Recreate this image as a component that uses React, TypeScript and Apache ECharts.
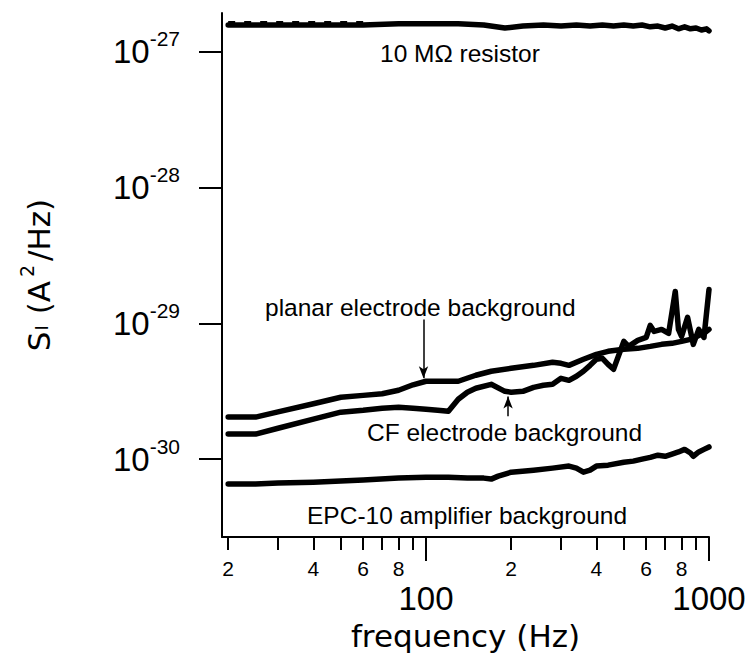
import React, { useEffect, useRef } from "react";
import * as echarts from "echarts";

// ---- data (frequency in Hz, spectral density S_I in A^2/Hz) ----
const freqResistor = [20, 40, 60, 80, 100, 130, 160, 190, 220, 260, 300, 340, 380, 420, 460, 500, 540, 580, 620, 660, 700, 740, 780, 820, 860, 900, 940, 980, 1000];
const resistor = [1.58e-27, 1.58e-27, 1.58e-27, 1.61e-27, 1.61e-27, 1.61e-27, 1.58e-27, 1.5e-27, 1.55e-27, 1.58e-27, 1.55e-27, 1.58e-27, 1.55e-27, 1.58e-27, 1.55e-27, 1.58e-27, 1.55e-27, 1.58e-27, 1.53e-27, 1.55e-27, 1.5e-27, 1.55e-27, 1.48e-27, 1.53e-27, 1.48e-27, 1.5e-27, 1.45e-27, 1.48e-27, 1.43e-27];

const freqTheory = [20, 60];
const theory = [1.63e-27, 1.63e-27];

const freqPlanar = [20, 25, 30, 40, 50, 60, 70, 80, 90, 100, 120, 130, 150, 170, 200, 240, 280, 300, 320, 360, 400, 440, 500, 560, 620, 680, 740, 800, 860, 920, 960, 1000];
const planar = [2.04e-30, 2.04e-30, 2.23e-30, 2.56e-30, 2.86e-30, 2.95e-30, 3.03e-30, 3.22e-30, 3.53e-30, 3.75e-30, 3.75e-30, 3.75e-30, 4.15e-30, 4.44e-30, 4.67e-30, 4.91e-30, 5.17e-30, 5.08e-30, 4.91e-30, 5.44e-30, 5.92e-30, 6.23e-30, 6.44e-30, 6.55e-30, 6.77e-30, 7.01e-30, 7.13e-30, 7.37e-30, 7.63e-30, 8.16e-30, 8.44e-30, 9.03e-30];

const freqCF = [20, 25, 30, 40, 50, 60, 70, 80, 90, 100, 110, 120, 130, 140, 150, 170, 190, 200, 220, 240, 260, 280, 300, 320, 340, 360, 380, 400, 420, 440, 460, 500, 520, 560, 600, 620, 640, 680, 720, 760, 780, 800, 840, 880, 920, 960, 1000];
const cf = [1.53e-30, 1.53e-30, 1.69e-30, 1.97e-30, 2.22e-30, 2.29e-30, 2.37e-30, 2.41e-30, 2.37e-30, 2.33e-30, 2.29e-30, 2.25e-30, 2.76e-30, 3.11e-30, 3.33e-30, 3.56e-30, 3.16e-30, 3.11e-30, 3.16e-30, 3.38e-30, 3.5e-30, 3.56e-30, 3.94e-30, 3.81e-30, 4.08e-30, 4.44e-30, 4.91e-30, 5.44e-30, 5.53e-30, 4.99e-30, 4.59e-30, 7.37e-30, 6.77e-30, 7.5e-30, 7.89e-30, 9.67e-30, 8.73e-30, 9.03e-30, 8.44e-30, 1.72e-29, 9.03e-30, 8.02e-30, 1.11e-29, 7.01e-30, 9.03e-30, 7.89e-30, 1.78e-29];

const freqEPC = [20, 25, 30, 40, 50, 60, 80, 100, 120, 140, 160, 170, 180, 200, 240, 280, 320, 340, 360, 380, 400, 440, 500, 540, 580, 620, 660, 700, 740, 780, 820, 860, 880, 920, 960, 1000];
const epc = [6.55e-31, 6.55e-31, 6.66e-31, 6.77e-31, 6.89e-31, 7.01e-31, 7.25e-31, 7.37e-31, 7.37e-31, 7.25e-31, 7.25e-31, 7.13e-31, 7.5e-31, 8.02e-31, 8.3e-31, 8.59e-31, 8.89e-31, 8.59e-31, 8.02e-31, 8.3e-31, 8.89e-31, 9.03e-31, 9.5e-31, 9.67e-31, 1.0e-30, 1.03e-30, 1.07e-30, 1.05e-30, 1.09e-30, 1.13e-30, 1.18e-30, 1.11e-30, 1.05e-30, 1.13e-30, 1.18e-30, 1.23e-30];

// axis ranges and ticks
const X_MIN = 19.02;
const X_MAX = 1000;
const Y_MIN = 2.67e-31;
const Y_MAX = 1.935e-27;
const minorTickFreqs = [20, 30, 40, 50, 60, 70, 80, 90, 200, 300, 400, 500, 600, 700, 800, 900];
const majorTickFreqs = [100, 1000];
const minorLabelFreqs = [20, 40, 60, 80, 200, 400, 600, 800];
const minorLabels = ["2", "4", "6", "8", "2", "4", "6", "8"];
const majorLabels = ["100", "1000"];
const yTickDecades = [1e-30, 1e-29, 1e-28, 1e-27];
const yTickExponents = ["-30", "-29", "-28", "-27"];

// annotations
const annotations = [
  { text: "10 M\u03A9 resistor", x: 380, y: 53 },
  { text: "planar electrode background", x: 265, y: 307 },
  { text: "CF electrode background", x: 367, y: 432 },
  { text: "EPC-10 amplifier background", x: 307, y: 515 },
];
const planarArrow = { f: 98, from: 1.07e-29, to: 3.94e-30 };
const cfArrow = { f: 195, from: 2.07e-30, to: 2.9e-30 };

const lg = Math.log10;
const FONT = "Liberation Sans";
const TITLE_FONT = "DejaVu Sans";

function pick(values: number[], labels: string[], v: number) {
  for (let i = 0; i < values.length; i++) {
    if (Math.abs(lg(values[i]) - v) < 1e-6) return labels[i];
  }
  return "";
}

function lineSeries(name: string, fr: number[], vals: number[], extra: any = {}) {
  return {
    name,
    type: "line",
    data: fr.map((f, i) => [lg(f), lg(vals[i])]),
    showSymbol: false,
    symbol: "none",
    smooth: false,
    lineStyle: { color: "#000", width: 5.5, join: "round", cap: "round" },
    z: 3,
    ...extra,
  };
}

function arrowLine(a: { f: number; from: number; to: number }) {
  return {
    silent: true,
    animation: false,
    symbol: ["none", "arrow"],
    symbolSize: [7, 12],
    lineStyle: { color: "#000", width: 1.5, type: "solid" },
    label: { show: false },
    data: [[{ coord: [lg(a.f), lg(a.from)] }, { coord: [lg(a.f), lg(a.to)] }]],
  };
}

export default function App() {
  const ref = useRef<HTMLDivElement>(null);
  useEffect(() => {
    if (!ref.current) return;
    const chart = echarts.init(ref.current, undefined, { renderer: "svg" });
    const xMin = lg(X_MIN);
    const xMax = lg(X_MAX);
    const option: any = {
      animation: false,
      backgroundColor: "#fff",
      grid: { left: 222, top: 13, width: 487, height: 525, containLabel: false },
      xAxis: [
        {
          type: "value",
          min: xMin,
          max: xMax,
          position: "bottom",
          axisLine: { show: true, lineStyle: { color: "#000", width: 2 } },
          axisTick: {
            show: true,
            customValues: minorTickFreqs.map(lg),
            length: 13,
            lineStyle: { color: "#000", width: 2 },
          },
          axisLabel: {
            show: true,
            customValues: minorLabelFreqs.map(lg),
            formatter: (v: number) => pick(minorLabelFreqs, minorLabels, v),
            margin: 21,
            fontSize: 21,
            fontFamily: FONT,
            color: "#000",
          },
          splitLine: { show: false },
          name: "frequency (Hz)",
          nameLocation: "middle",
          nameGap: 83,
          nameTextStyle: { fontSize: 31, fontFamily: TITLE_FONT, color: "#000" },
        },
        {
          type: "value",
          min: xMin,
          max: xMax,
          position: "bottom",
          axisLine: { show: false },
          axisTick: {
            show: true,
            customValues: majorTickFreqs.map(lg),
            length: 24,
            lineStyle: { color: "#000", width: 2 },
          },
          axisLabel: {
            show: true,
            customValues: majorTickFreqs.map(lg),
            formatter: (v: number) => pick(majorTickFreqs, majorLabels, v),
            margin: 45,
            fontSize: 33,
            fontFamily: FONT,
            color: "#000",
          },
          splitLine: { show: false },
        },
      ],
      yAxis: {
        type: "value",
        min: lg(Y_MIN),
        max: lg(Y_MAX),
        axisLine: { show: true, lineStyle: { color: "#000", width: 2 } },
        axisTick: {
          show: true,
          customValues: yTickDecades.map(lg),
          length: 23,
          lineStyle: { color: "#000", width: 2 },
        },
        axisLabel: {
          show: true,
          customValues: yTickDecades.map(lg),
          formatter: (v: number) => `{b|10}{s|${pick(yTickDecades, yTickExponents, v)}}`,
          margin: 42,
          color: "#000",
          rich: {
            b: { fontSize: 33, lineHeight: 33, fontFamily: FONT, color: "#000" },
            s: { fontSize: 21, lineHeight: 21, fontFamily: FONT, color: "#000", padding: [0, 0, 26, 0] },
          },
        },
        splitLine: { show: false },
        name: "{n|S}{sub|I}{n| (A}{sup|2}{n|/Hz)}",
        nameLocation: "middle",
        nameRotate: 90,
        nameGap: 165,
        nameTextStyle: {
          color: "#000",
          rich: {
            n: { fontSize: 31, lineHeight: 31, fontFamily: TITLE_FONT, color: "#000", padding: [0, 0, 6, 0] },
            sub: { fontSize: 18, lineHeight: 18, fontFamily: TITLE_FONT, color: "#000", padding: [0, 1, 0, 1] },
            sup: { fontSize: 19, lineHeight: 19, fontFamily: TITLE_FONT, color: "#000", padding: [0, 4, 29, 4] },
          },
        },
      },
      series: [
        lineSeries("theory", freqTheory, theory, {
          lineStyle: { color: "#000", width: 4, type: [7, 9] },
          z: 2,
        }),
        lineSeries("10 MΩ resistor", freqResistor, resistor),
        lineSeries("planar electrode background", freqPlanar, planar, { markLine: arrowLine(planarArrow) }),
        lineSeries("CF electrode background", freqCF, cf, { markLine: arrowLine(cfArrow) }),
        lineSeries("EPC-10 amplifier background", freqEPC, epc),
      ],
      graphic: annotations.map((a) => ({
        type: "text",
        x: a.x,
        y: a.y,
        silent: true,
        style: {
          text: a.text,
          fontSize: 24.5,
          fontFamily: FONT,
          fill: "#000",
          align: "left",
          verticalAlign: "middle",
        },
      })),
    };
    chart.setOption(option);
    return () => chart.dispose();
  }, []);
  return (
    <div
      ref={ref}
      style={{ position: "fixed", left: 0, top: 0, width: 753, height: 656, background: "#fff" }}
    />
  );
}
